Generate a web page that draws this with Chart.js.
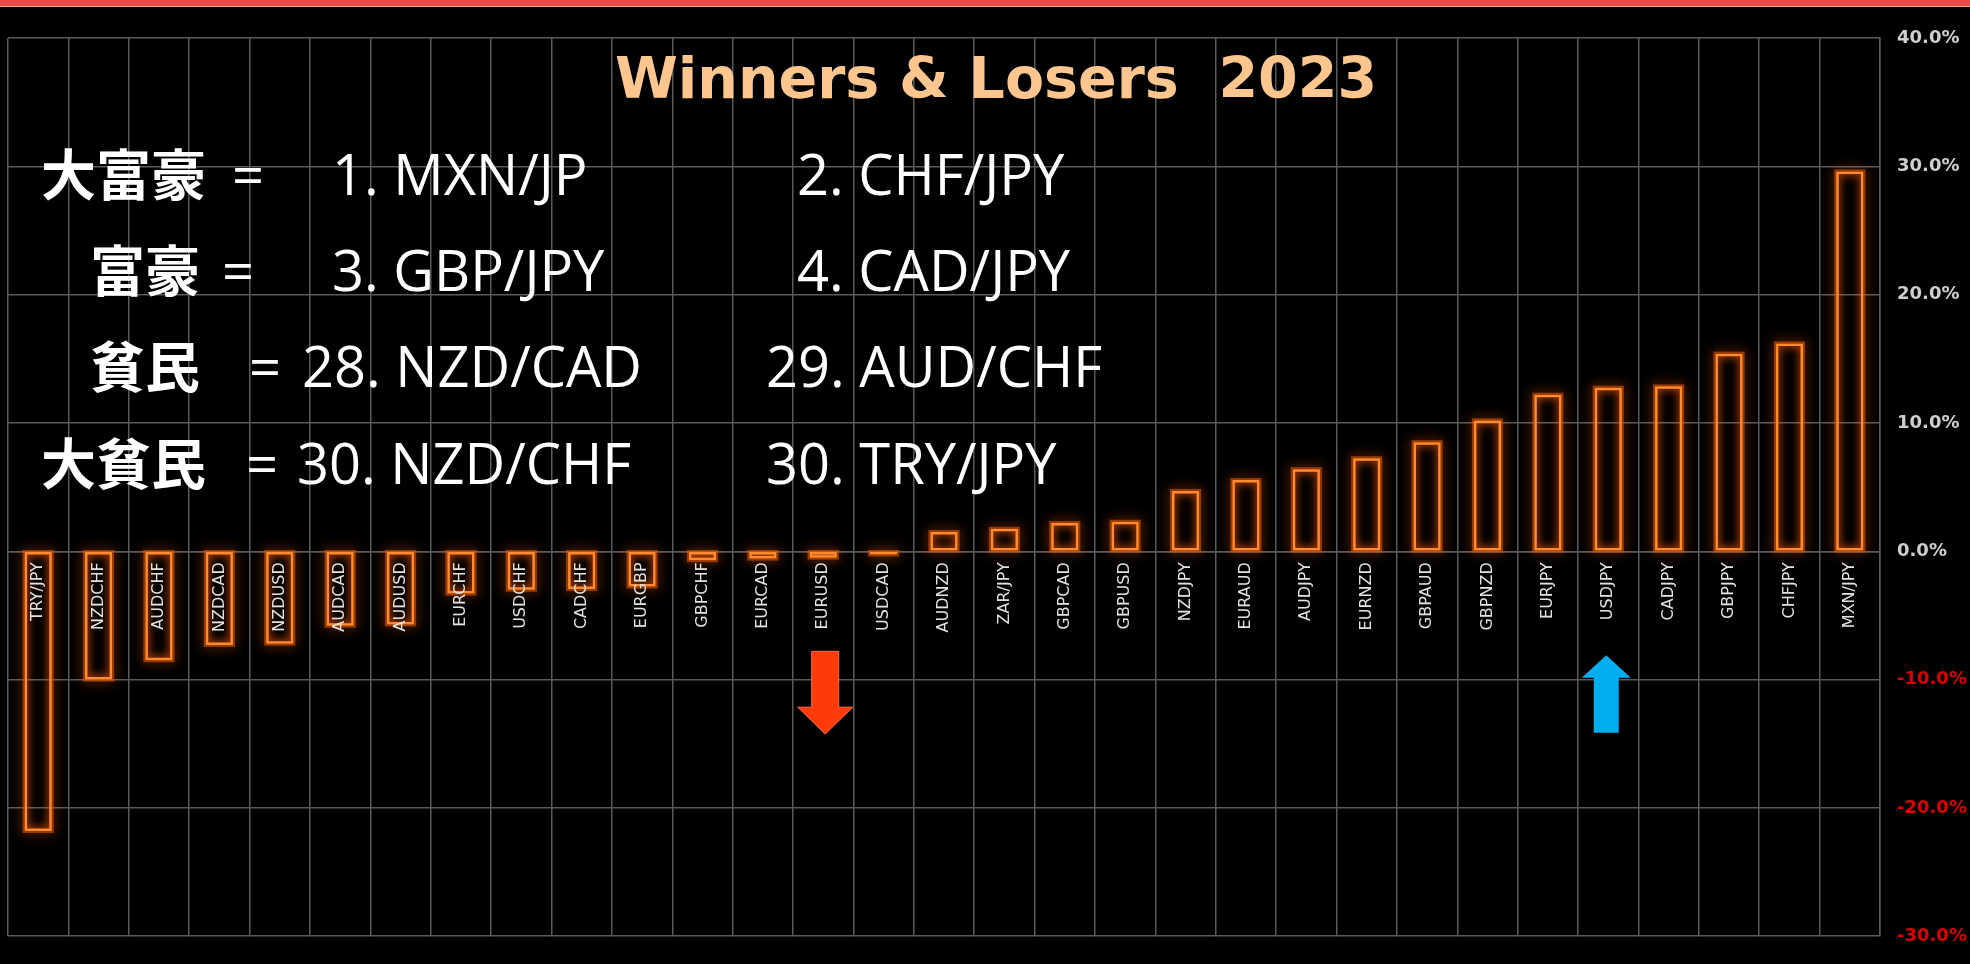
<!DOCTYPE html>
<html>
<head>
<meta charset="utf-8">
<script src="https://cdn.jsdelivr.net/npm/chart.js@4/dist/chart.umd.min.js"></script>
<style>
html,body{margin:0;padding:0;background:#000;}
#wrap{position:relative;width:1970px;height:964px;background:#000;overflow:hidden;}
#topbar{position:absolute;left:0;top:0;width:1970px;height:6px;background:#e64b46;border-bottom:1px solid #f0a59e;}
canvas{position:absolute;left:0;top:0;}
</style>
</head>
<body>
<div id="wrap"><canvas id="c" width="1970" height="964"></canvas><div id="topbar"></div></div>
<script>
// ---- data ----
const categories = ['TRY/JPY','NZDCHF','AUDCHF','NZDCAD','NZDUSD','AUDCAD','AUDUSD','EURCHF','USDCHF','CADCHF',
  'EURGBP','GBPCHF','EURCAD','EURUSD','USDCAD','AUDNZD','ZAR/JPY','GBPCAD','GBPUSD','NZDJPY',
  'EURAUD','AUDJPY','EURNZD','GBPAUD','GBPNZD','EURJPY','USDJPY','CADJPY','GBPJPY','CHFJPY','MXN/JPY'];
const changePct = [-21.8,-10.0,-8.5,-7.3,-7.2,-5.8,-5.7,-3.3,-3.0,-2.95,
  -2.75,-0.7,-0.57,-0.5,-0.25,1.5,1.75,2.2,2.3,4.7,
  5.55,6.4,7.25,8.5,10.2,12.2,12.75,12.85,15.4,16.2,29.6];
const yMin = -30, yMax = 40, yStep = 10;
const titleText = 'Winners & Losers  2023';
const rankNames = ['大富豪','富豪','貧民','大貧民'];
const rankLeft  = ['1. MXN/JP','3. GBP/JPY','28. NZD/CAD','30. NZD/CHF'];
const rankRight = ['2. CHF/JPY','4. CAD/JPY','29. AUD/CHF','30. TRY/JPY'];
const arrowDownPair = 'EURUSD';
const arrowUpPair = 'USDJPY';

// ---- styles ----
const GRID = '#5a5a5a';
const BAR = '#ff8a30';

const overlay = {
  id: 'overlay',
  beforeDatasetsDraw(chart) {
    const ctx = chart.ctx;
    const meta = chart.getDatasetMeta(0);
    ctx.save();
    ctx.shadowColor = 'rgba(255,100,0,1)';
    ctx.shadowBlur = 12;
    ctx.strokeStyle = 'rgba(220,85,0,0.6)';
    ctx.lineWidth = 4;
    meta.data.forEach(el => {
      const p = el.getProps(['x','y','base','width'], true);
      ctx.strokeRect(p.x - p.width/2, Math.min(p.y, p.base), p.width, Math.abs(p.base - p.y));
    });
    ctx.restore();
    ctx.save();
    ctx.shadowColor = 'rgba(255,90,0,1)';
    ctx.shadowBlur = 7;
  },
  afterDatasetsDraw(chart) {
    chart.ctx.restore();
  },
  afterDraw(chart) {
    const ctx = chart.ctx;
    const xs = chart.scales.x, ys = chart.scales.y;
    ctx.save();
    // title
    ctx.font = 'bold 57px "DejaVu Sans"';
    ctx.fillStyle = '#fdc68e';
    ctx.textAlign = 'center';
    ctx.textBaseline = 'alphabetic';
    ctx.fillText(titleText, 996, 98);
    // rank texts
    const baselines = [195, 291, 387, 484];
    const jpX = [41, 90, 90, 41];
    const eqX = [232, 222, 249, 246];
    const lX = [332, 332, 302, 297];
    const rX = [797, 797, 766, 766];
    ctx.textAlign = 'left';
    ctx.fillStyle = '#ffffff';
    for (let i = 0; i < 4; i++) {
      ctx.font = 'bold 55px "Noto Sans CJK JP"';
      ctx.fillText(rankNames[i], jpX[i], baselines[i]);
      ctx.font = '500 56px "Open Sans"';
      ctx.fillText('=', eqX[i], baselines[i]);
      ctx.fillText(rankLeft[i], lX[i], baselines[i]);
      ctx.fillText(rankRight[i], rX[i], baselines[i]);
    }
    // arrows anchored on categories via the scales
    const drawArrow = (cx, yTail, yHeadBase, yTip, shaftHalf, headHalf, color, edge) => {
      ctx.beginPath();
      ctx.moveTo(cx - shaftHalf, yTail);
      ctx.lineTo(cx + shaftHalf, yTail);
      ctx.lineTo(cx + shaftHalf, yHeadBase);
      ctx.lineTo(cx + headHalf, yHeadBase);
      ctx.lineTo(cx, yTip);
      ctx.lineTo(cx - headHalf, yHeadBase);
      ctx.lineTo(cx - shaftHalf, yHeadBase);
      ctx.closePath();
      ctx.fillStyle = color;
      ctx.fill();
      if (edge) { ctx.strokeStyle = edge; ctx.lineWidth = 1; ctx.stroke(); }
    };
    const dx = xs.getPixelForValue(categories.indexOf(arrowDownPair)) + 2;
    drawArrow(dx, ys.getPixelForValue(-7.8), ys.getPixelForValue(-12.15), ys.getPixelForValue(-14.25), 13.5, 27.5, '#ff3a0a', '#ff6a50');
    const ux = xs.getPixelForValue(categories.indexOf(arrowUpPair)) - 2;
    drawArrow(ux, ys.getPixelForValue(-14.15), ys.getPixelForValue(-9.85), ys.getPixelForValue(-8.1), 12.5, 24.5, '#00aeef', null);
    ctx.restore();
  }
};

new Chart(document.getElementById('c'), {
  type: 'bar',
  data: {
    labels: categories,
    datasets: [{
      data: changePct,
      backgroundColor: 'rgba(0,0,0,0)',
      borderColor: BAR,
      borderWidth: 2.5,
      borderSkipped: false,
      barPercentage: 0.45,
      categoryPercentage: 1.0
    }]
  },
  options: {
    responsive: false,
    animation: false,
    devicePixelRatio: 1,
    layout: { padding: { left: 8, top: 38, right: 0, bottom: 23 } },
    plugins: { legend: { display: false }, tooltip: { enabled: false }, title: { display: false } },
    scales: {
      x: {
        type: 'category',
        position: { y: 0 },
        offset: true,
        grid: { color: GRID, lineWidth: 1.5, drawTicks: false, offset: true },
        border: { color: GRID, width: 1.5 },
        ticks: {
          z: 1,
          color: '#e2e2e2',
          font: { family: 'DejaVu Sans', size: 16 },
          minRotation: 90, maxRotation: 90,
          autoSkip: false,
          padding: 11
        }
      },
      y: {
        position: 'right',
        min: yMin, max: yMax,
        grid: { color: GRID, lineWidth: 1.5, drawTicks: false },
        border: { color: GRID, width: 1.5 },
        ticks: {
          stepSize: yStep,
          padding: 17,
          color: ctx => ctx.tick.value < 0 ? '#e00000' : '#cfcfcf',
          font: { family: 'DejaVu Sans', size: 18, weight: 'bold' },
          callback: v => v.toFixed(1) + '%'
        },
        afterFit: s => { s.width = 90; }
      }
    }
  },
  plugins: [overlay]
});
</script>
</body>
</html>
